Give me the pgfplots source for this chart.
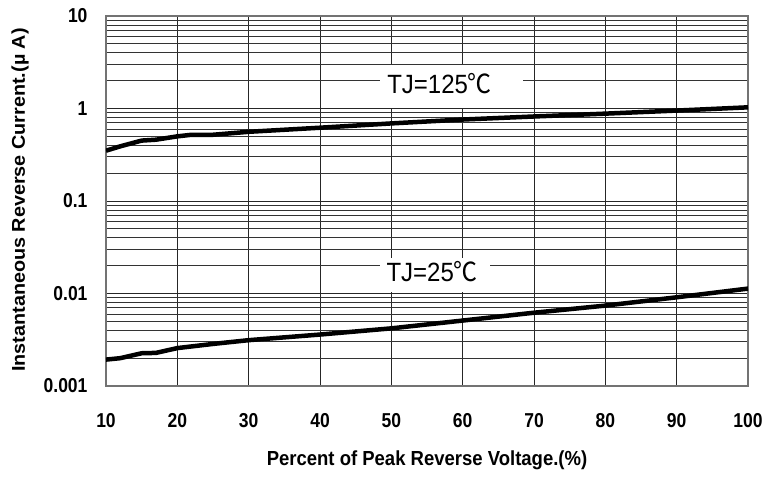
\documentclass[border=0pt]{standalone}
\usepackage{fontspec}
\setmainfont{Liberation Sans}
\newfontfamily\cjk{Noto Sans CJK SC}
\usepackage{pgfplots}
\pgfplotsset{compat=1.18}

\begin{document}
\begin{tikzpicture}
\useasboundingbox (-106pt,-91pt) rectangle (675pt,386pt);
\begin{axis}[
    scale only axis,
    width=642pt, height=370pt,
    at={(0,0)}, anchor=south west,
    ymode=log,
    xmin=10, xmax=100,
    ymin=0.001, ymax=10,
    xtick={10,20,...,100},
    ytick={0.001,0.01,0.1,1,10},
    yticklabels={0.001,0.01,0.1,1,10},
    /pgf/number format/assume math mode=true,
    xmajorgrids, ymajorgrids, yminorgrids,
    major grid style={black!85, line width=0.8pt},
    minor grid style={black!80, line width=0.8pt},
    major tick length=0pt, minor tick length=0pt,
    axis line style={black!55, line width=1.2pt},
    tick label style={font=\fontsize{17.5}{17.5}\selectfont\bfseries, yscale=1.15},
    xticklabel style={yshift=-20pt},
    yticklabel style={xshift=-15pt},
    xlabel={Percent of Peak Reverse Voltage.(\%)},
    ylabel={Instantaneous Reverse Current.(\textmu\ A)},
    label style={font=\fontsize{18.5}{18.5}\selectfont\bfseries},
    xlabel style={at={(rel axis cs:0.500,0)}, anchor=center, yshift=-74pt, yscale=1.1},
    ylabel style={at={(rel axis cs:0,0.503)}, anchor=center, yshift=86pt, xscale=1.07},
]
\addplot[black, line width=4.5pt] coordinates {
    (10,0.35) (12,0.39) (15,0.45) (17,0.46) (20,0.50) (22,0.52) (25,0.52)
    (30,0.56) (40,0.62) (50,0.69) (60,0.76) (70,0.82) (80,0.88) (90,0.95) (100,1.03)
};
\addplot[black, line width=4.5pt] coordinates {
    (10,0.00193) (12,0.00200) (15,0.00226) (17,0.00228) (20,0.00257) (25,0.00285)
    (30,0.00313) (40,0.0036) (50,0.0042) (60,0.0051) (70,0.0062) (80,0.0074)
    (90,0.0091) (100,0.0113)
};
\node[fill=white, minimum width=143pt, minimum height=43pt, inner sep=0pt] at (axis cs:58.4,1.73) {};
\node[fill=white, minimum width=110pt, minimum height=34pt, inner sep=0pt] at (axis cs:56.1,0.016) {};
\node[anchor=west, inner sep=0pt, font=\fontsize{24}{24}\selectfont, yscale=1.1]
      at (axis cs:49.4,1.86) {TJ=125{\cjk ℃}};
\node[anchor=west, inner sep=0pt, font=\fontsize{24}{24}\selectfont, yscale=1.1]
      at (axis cs:49.3,0.0173) {TJ=25{\cjk ℃}};
\end{axis}
\end{tikzpicture}
\end{document}
